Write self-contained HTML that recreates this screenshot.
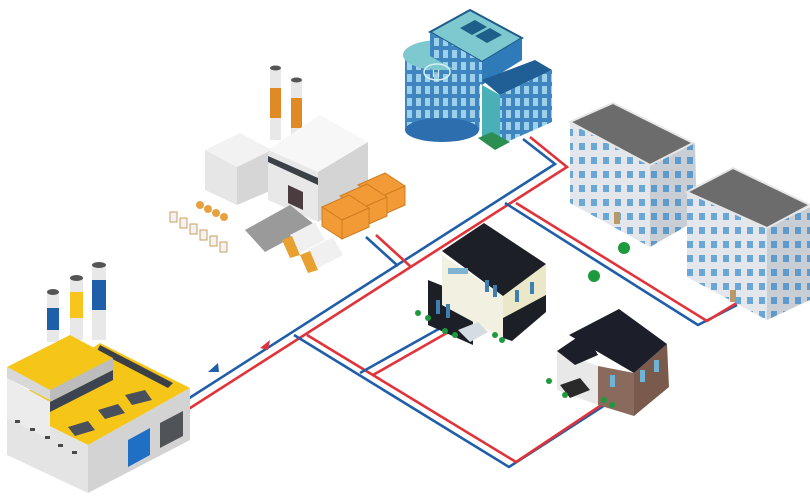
<!DOCTYPE html>
<html><head><meta charset="utf-8"><style>
html,body{margin:0;padding:0;background:#fff;}
svg{display:block;}
</style></head><body>
<svg width="810" height="503" viewBox="0 0 810 503" xmlns="http://www.w3.org/2000/svg">
<defs>
<pattern id="win" width="12" height="14" patternUnits="userSpaceOnUse">
<rect width="12" height="14" fill="#e3e6ea"/><rect x="3" y="3" width="6" height="7" fill="#6aa7d6"/>
</pattern>
<pattern id="win2" width="12" height="14" patternUnits="userSpaceOnUse">
<rect width="12" height="14" fill="#c9ced4"/><rect x="3" y="3" width="6" height="7" fill="#5e9bcc"/>
</pattern>
<pattern id="hw" width="9" height="12" patternUnits="userSpaceOnUse">
<rect width="9" height="12" fill="#3f86c0"/><rect x="2" y="2" width="5" height="8" fill="#9fd0ea"/>
</pattern>
</defs>

<!-- pipes -->
<g fill="none" stroke-width="2.6" stroke-linejoin="miter">
<polyline stroke="#1f5ea8" points="180,404 555,164 523,139"/>
<polyline stroke="#e0333a" points="187,410 567,167 530,137"/>
<polyline stroke="#1f5ea8" points="398,266 366,237"/>
<polyline stroke="#e0333a" points="410,266 376,235"/>
<polyline stroke="#1f5ea8" points="505,203 698,325 737,305"/>
<polyline stroke="#e0333a" points="516,203 707,321 740,301"/>
<polyline stroke="#1f5ea8" points="294,335 509,467 605,405"/>
<polyline stroke="#e0333a" points="307,335 516,462 609,400"/>
<polyline stroke="#1f5ea8" points="360,373 444,326"/>
<polyline stroke="#e0333a" points="373,375 452,330"/>
</g>
<polygon points="208,372 218,363 219,372" fill="#1f5ea8"/>
<polygon points="260,348 270,340 268,350" fill="#e0333a"/>

<!-- power plant -->
<rect x="47" y="292" width="12" height="50" fill="#e8e8e8"/><rect x="47" y="308" width="12" height="22" fill="#1f5ea8"/><ellipse cx="53" cy="292" rx="6" ry="3" fill="#555"/>
<rect x="70" y="278" width="13" height="62" fill="#e8e8e8"/><rect x="70" y="292" width="13" height="26" fill="#f7c51e"/><ellipse cx="76.5" cy="278" rx="6.5" ry="3" fill="#555"/>
<rect x="92" y="265" width="14" height="75" fill="#e8e8e8"/><rect x="92" y="280" width="14" height="30" fill="#1f5ea8"/><ellipse cx="99" cy="265" rx="7" ry="3" fill="#555"/>
<polygon points="100,343 190,388 88,445 7,405" fill="#f5c518"/>
<polygon points="7,405 88,445 88,493 7,455" fill="#e4e4e4"/>
<polygon points="88,445 190,388 190,440 88,493" fill="#d3d3d3"/>
<polygon points="100,345 173,383 168,388 97,351" fill="#3b3f46"/>
<polygon points="7,367 70,335 113,358 50,390" fill="#f5c518"/>
<polygon points="7,367 50,390 50,400 7,378" fill="#d8d8d8"/>
<polygon points="50,390 113,358 113,370 50,402" fill="#bdbdbd"/>
<polygon points="7,378 50,402 50,440 7,418" fill="#ececec"/>
<polygon points="50,402 113,370 113,380 50,412" fill="#3b4450"/>
<polygon points="125,395 145,390 152,400 132,405" fill="#4a4f5c"/>
<polygon points="98,410 118,404 125,413 105,419" fill="#4a4f5c"/>
<polygon points="68,427 88,421 95,430 75,436" fill="#4a4f5c"/>
<polygon points="128,440 150,428 150,455 128,467" fill="#1f6fc4"/>
<polygon points="160,423 183,411 183,436 160,448" fill="#505358"/>
<g fill="#4a4a4a"><rect x="15" y="420" width="5" height="3"/><rect x="30" y="428" width="5" height="3"/><rect x="45" y="436" width="5" height="3"/><rect x="58" y="444" width="5" height="3"/><rect x="72" y="451" width="5" height="3"/></g>

<!-- factory top middle -->
<rect x="270" y="68" width="11" height="72" fill="#e8e8e8"/><rect x="270" y="88" width="11" height="30" fill="#e08a26"/><ellipse cx="275.5" cy="68" rx="5.5" ry="2.5" fill="#555"/>
<rect x="291" y="80" width="11" height="60" fill="#e8e8e8"/><rect x="291" y="98" width="11" height="30" fill="#e08a26"/><ellipse cx="296.5" cy="80" rx="5.5" ry="2.5" fill="#555"/>
<polygon points="205,150 240,133 272,150 237,167" fill="#f2f2f2"/>
<polygon points="205,150 237,167 237,205 205,190" fill="#e6e6e6"/>
<polygon points="237,167 272,150 272,190 237,205" fill="#d6d6d6"/>
<polygon points="268,150 320,115 368,142 318,172" fill="#f7f7f7"/>
<polygon points="268,150 318,172 318,222 268,200" fill="#e8e8e8"/>
<polygon points="318,172 368,142 368,190 318,222" fill="#d4d4d4"/>
<polygon points="268,156 318,178 318,185 268,162" fill="#3b3f46"/>
<polygon points="288,185 303,192 303,210 288,203" fill="#4b3d3f"/>
<polygon points="245,230 290,205 315,225 265,252" fill="#9a9a9a"/>
<g fill="#f29a35" stroke="#d07d20" stroke-width="1">
<polygon points="358,185 385,173 405,186 378,198"/><polygon points="378,198 405,186 405,205 378,217"/>
<polygon points="340,196 367,184 387,197 360,209"/><polygon points="360,209 387,197 387,216 360,228"/>
<polygon points="322,207 349,195 369,208 342,220"/><polygon points="342,220 369,208 369,227 342,239"/>
<polygon points="322,207 342,220 342,239 322,226"/>
</g>
<g>
<polygon points="290,235 315,222 325,240 300,253" fill="#f0f0f0"/><polygon points="282,240 292,236 300,255 290,258" fill="#e8a030"/>
<polygon points="308,250 333,237 343,255 318,268" fill="#f0f0f0"/><polygon points="300,255 310,251 318,270 308,273" fill="#e8a030"/>
</g>
<g fill="#f2f2f2" stroke="#c8a060" stroke-width="1">
<rect x="170" y="212" width="7" height="10"/><rect x="180" y="218" width="7" height="10"/><rect x="190" y="224" width="7" height="10"/><rect x="200" y="230" width="7" height="10"/><rect x="210" y="236" width="7" height="10"/><rect x="220" y="242" width="7" height="10"/>
</g>
<g fill="#e8a040"><circle cx="200" cy="205" r="4"/><circle cx="208" cy="209" r="4"/><circle cx="216" cy="213" r="4"/><circle cx="224" cy="217" r="4"/></g>

<!-- hospital -->
<rect x="405" y="55" width="75" height="75" fill="url(#hw)"/>
<ellipse cx="442" cy="130" rx="37" ry="12" fill="#2d6fae"/>
<ellipse cx="440" cy="55" rx="37" ry="15" fill="#7dc9cf"/>
<ellipse cx="437" cy="72" rx="13" ry="8" fill="none" stroke="#d7f0f0" stroke-width="1.5"/>
<text x="432" y="77" font-family="Liberation Sans, sans-serif" font-size="11" fill="#d7f0f0">H</text>
<polygon points="430,32 470,10 522,38 482,62" fill="#7dc9cf" stroke="#1f5a8a" stroke-width="2"/>
<polygon points="460,28 475,20 487,27 472,35" fill="#1e5f8a"/><polygon points="475,36 490,28 502,35 487,43" fill="#1e5f8a"/>
<polygon points="430,32 482,62 482,85 430,56" fill="url(#hw)"/>
<polygon points="482,62 522,38 522,60 482,85" fill="#2f7ab8"/>
<polygon points="482,80 535,60 552,70 500,95" fill="#1f5f96"/>
<polygon points="482,85 500,95 500,145 482,140" fill="#4ab0b8"/>
<polygon points="500,95 552,70 552,122 500,145" fill="url(#hw)"/>
<polygon points="478,138 492,132 510,142 495,150" fill="#2a8f50"/>

<!-- apartment 1 -->
<polygon points="570,122 650,165 650,247 570,203" fill="url(#win)"/>
<polygon points="650,165 695,143 697,220 650,247" fill="url(#win2)"/>
<polygon points="570,122 613,103 693,143 650,165" fill="#6c6c6c" stroke="#e6e6e6" stroke-width="2"/>
<rect x="614" y="212" width="6" height="12" fill="#b89a6a"/>
<!-- apartment 2 -->
<polygon points="687,192 767,228 767,320 687,277" fill="url(#win)"/>
<polygon points="767,228 810,207 810,300 767,320" fill="url(#win2)"/>
<polygon points="687,192 733,168 810,205 767,228" fill="#6c6c6c" stroke="#e6e6e6" stroke-width="2"/>
<rect x="730" y="290" width="6" height="12" fill="#b89a6a"/>

<!-- house 1 -->
<polygon points="428,280 473,298 473,345 428,325" fill="#1c1f26"/>
<polygon points="442,255 503,296 503,338 442,305" fill="#f2f0e0"/>
<polygon points="503,296 546,264 546,312 512,341 503,338" fill="#eae8c8"/>
<polygon points="503,318 546,295 546,312 512,341 503,338" fill="#1c1f26"/>
<polygon points="442,251 484,223 546,264 503,296" fill="#1c1f26"/>
<rect x="448" y="268" width="20" height="6" fill="#7fb3d0"/>
<g fill="#3d7fb0"><rect x="436" y="300" width="4" height="14"/><rect x="446" y="304" width="4" height="14"/><rect x="485" y="280" width="4" height="12"/><rect x="493" y="285" width="4" height="12"/><rect x="515" y="290" width="4" height="12"/><rect x="530" y="282" width="4" height="12"/></g>
<polygon points="458,330 478,322 488,332 470,342" fill="#d5dde3"/>
<!-- house 2 -->
<polygon points="557,351 598,366 598,405 557,390" fill="#e8e8e8"/>
<polygon points="598,366 634,373 634,416 598,405" fill="#8a6a5c"/>
<polygon points="634,373 667,344 669,387 634,416" fill="#7a5a4c"/>
<polygon points="569,335 619,309 667,344 634,373" fill="#1c1f2a"/>
<polygon points="557,351 585,332 598,355 575,365" fill="#1c1f2a"/>
<g fill="#6fb3d6"><rect x="610" y="375" width="5" height="12"/><rect x="640" y="370" width="5" height="12"/><rect x="654" y="360" width="5" height="12"/></g>
<polygon points="560,385 580,378 590,390 570,398" fill="#2a2a2a"/>

<!-- trees -->
<g fill="#1e9a3e">
<circle cx="624" cy="248" r="6"/><circle cx="594" cy="276" r="6"/>
<circle cx="418" cy="313" r="3"/><circle cx="428" cy="318" r="3"/><circle cx="445" cy="331" r="3"/><circle cx="455" cy="335" r="3"/><circle cx="495" cy="335" r="3"/><circle cx="502" cy="340" r="3"/>
<circle cx="549" cy="381" r="3"/><circle cx="565" cy="395" r="3"/><circle cx="604" cy="400" r="3"/><circle cx="612" cy="405" r="3"/>
</g>
</svg>
</body></html>
